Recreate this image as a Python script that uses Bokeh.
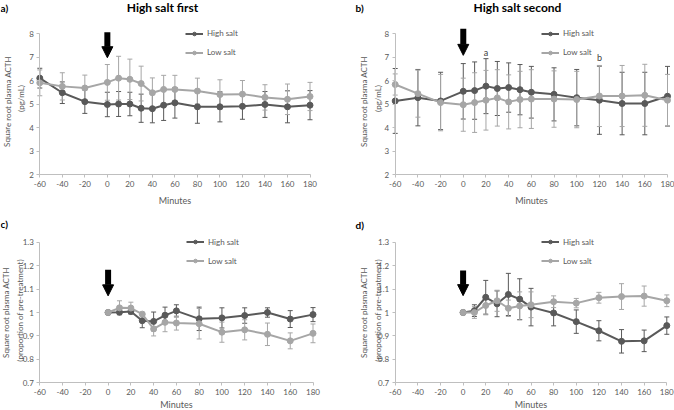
from bokeh.plotting import figure
from bokeh.models import (Range1d, FixedTicker, Label, Legend, LegendItem, Whisker, Grid,
                          ColumnDataSource, Arrow, NormalHead, TeeHead, LinearAxis)
from bokeh.layouts import column, row
from bokeh.embed import file_html
from bokeh.resources import INLINE

# ---------------- data ----------------
minutes_abs = [-60, -40, -20, 0, 10, 20, 30, 40, 50, 60, 80, 100, 120, 140, 160, 180]
minutes_rel = [0, 10, 20, 30, 40, 50, 60, 80, 100, 120, 140, 160, 180]

x_ticks = [-60, -40, -20, 0, 20, 40, 60, 80, 100, 120, 140, 160, 180]
x_tick_labels = ["-60", "-40", "-20", "0", "20", "40", "60", "80", "100", "120", "140", "160", "180"]
abs_ticks = [2, 3, 4, 5, 6, 7, 8]
abs_tick_labels = ["2", "3", "4", "5", "6", "7", "8"]
rel_ticks = [0.7, 0.8, 0.9, 1.0, 1.1, 1.2, 1.3]
rel_tick_labels = ["0.7", "0.8", "0.9", "1", "1.1", "1.2", "1.3"]

series_names = ["High salt", "Low salt"]
panel_titles = ["High salt first", "High salt second"]
panel_letters = ["a)", "b)", "c)", "d)"]
ylabel_abs = ["Square root plasma ACTH", "(pg/mL)"]
ylabel_rel = ["Square root plasma ACTH", "(proportion of pre-treatment)"]
sig_labels = ["a", "b"]
sig_x = [20, 120]
sig_y = [7.18, 6.97]

a_high = [6.1, 5.48, 5.1, 4.98, 5.0, 5.0, 4.82, 4.8, 4.95, 5.05, 4.88, 4.88, 4.9, 4.98, 4.88, 4.95]
a_high_err = [0.42, 0.46, 0.5, 0.52, 0.53, 0.5, 0.6, 0.6, 0.65, 0.65, 0.7, 0.64, 0.55, 0.55, 0.68, 0.62]
a_low = [5.9, 5.75, 5.68, 5.92, 6.1, 6.05, 5.87, 5.48, 5.62, 5.62, 5.55, 5.4, 5.42, 5.28, 5.2, 5.32]
a_low_err = [0.55, 0.58, 0.55, 0.76, 0.93, 0.86, 0.74, 0.63, 0.6, 0.6, 0.55, 0.63, 0.58, 0.54, 0.65, 0.6]

b_high = [5.13, 5.27, 5.13, 5.54, 5.57, 5.76, 5.66, 5.70, 5.61, 5.50, 5.41, 5.27, 5.16, 5.02, 5.02, 5.33]
b_high_err = [1.38, 1.2, 1.22, 1.18, 1.22, 1.17, 1.15, 1.05, 1.07, 1.1, 1.13, 1.2, 1.45, 1.33, 1.33, 1.27]
b_low = [5.83, 5.44, 5.06, 4.97, 5.06, 5.16, 5.26, 5.09, 5.19, 5.21, 5.21, 5.19, 5.34, 5.34, 5.37, 5.16]
b_low_err = [0.45, 1.0, 1.2, 1.13, 1.27, 1.27, 1.2, 1.15, 1.2, 1.25, 1.2, 1.2, 1.3, 1.3, 1.32, 1.1]

c_high = [1.0, 1.001, 1.004, 0.965, 0.962, 0.988, 1.007, 0.973, 0.977, 0.987, 1.0, 0.972, 0.991]
c_high_err = [0.0, 0.01, 0.01, 0.03, 0.04, 0.035, 0.026, 0.05, 0.043, 0.033, 0.02, 0.036, 0.03]
c_low = [1.0, 1.02, 1.019, 0.993, 0.93, 0.958, 0.955, 0.952, 0.916, 0.926, 0.907, 0.879, 0.911]
c_low_err = [0.0, 0.03, 0.025, 0.008, 0.03, 0.04, 0.03, 0.065, 0.043, 0.043, 0.048, 0.034, 0.04]

d_high = [1.0, 1.008, 1.065, 1.037, 1.077, 1.057, 1.023, 0.998, 0.961, 0.922, 0.877, 0.879, 0.944]
d_high_err = [0.0, 0.025, 0.072, 0.055, 0.09, 0.087, 0.08, 0.055, 0.05, 0.043, 0.05, 0.046, 0.037]
d_low = [1.0, 1.0, 1.03, 1.05, 1.018, 1.028, 1.033, 1.046, 1.04, 1.063, 1.068, 1.07, 1.05]
d_low_err = [0.0, 0.025, 0.04, 0.045, 0.035, 0.06, 0.055, 0.025, 0.02, 0.023, 0.055, 0.043, 0.025]

treatment_time = 0
arrow_abs = [(8.05, 6.97), (8.2, 7.07)]
arrow_rel = [(1.182, 1.071), (1.179, 1.072)]

# ---------------- style ----------------
FONT = "Lato"
DARK = "#595959"
LIGHT = "#A6A6A6"
AXIS = "#BFBFBF"
TXT = "#595959"
ROT = 1.5707963
W, H = 337, 205


def make_panel(px_left, px_right, px_top, px_bot, yrange, yticks, ylabels, label_standoff):
    """Frame covers the whole canvas; axes are fixed at x=-60 and y=ymin."""
    xs = (px_right - px_left) / 240.0
    xr = Range1d(-60 - px_left / xs, 180 + (W - px_right) / xs)
    ymin, ymax = yrange
    ys = (px_bot - px_top) / (ymax - ymin)
    yr = Range1d(ymin - (H - px_bot) / ys, ymax + px_top / ys)
    p = figure(width=W, height=H, output_backend="svg", toolbar_location=None,
               x_range=xr, y_range=yr, x_axis_location=None, y_axis_location=None,
               min_border=0, background_fill_color="white", border_fill_color="white")
    p.title.visible = False
    p.outline_line_color = None
    p.center = [c for c in p.center if not isinstance(c, Grid)]

    xa = LinearAxis(fixed_location=ymin, bounds=(-60, 180),
                    ticker=FixedTicker(ticks=x_ticks),
                    major_label_overrides=dict(zip(x_ticks, x_tick_labels)),
                    axis_label="Minutes")
    ya = LinearAxis(fixed_location=-60, bounds=(ymin, ymax),
                    ticker=FixedTicker(ticks=yticks),
                    major_label_overrides=dict(zip(yticks, ylabels)))
    for ax in (xa, ya):
        ax.axis_line_color = AXIS
        ax.major_tick_line_color = AXIS
        ax.major_tick_out = 3
        ax.major_tick_in = 0
        ax.minor_tick_out = 0
        ax.minor_tick_in = 0
        ax.major_label_text_font = FONT
        ax.major_label_text_font_size = "8px"
        ax.major_label_text_color = TXT
        ax.major_label_standoff = 3
    xa.axis_label_text_font = FONT
    xa.axis_label_text_font_size = "9px"
    xa.axis_label_text_font_style = "normal"
    xa.axis_label_text_color = TXT
    xa.axis_label_standoff = label_standoff
    p.add_layout(xa, "below")
    p.add_layout(ya, "left")
    return p


def add_series(p, xs, ys, errs, color, name):
    src = ColumnDataSource(dict(x=xs, y=ys,
                                upper=[v + e for v, e in zip(ys, errs)],
                                lower=[v - e for v, e in zip(ys, errs)]))
    w = Whisker(base="x", upper="upper", lower="lower", source=src,
                line_color=color, line_width=1,
                upper_head=TeeHead(size=5, line_color=color, line_width=1),
                lower_head=TeeHead(size=5, line_color=color, line_width=1))
    p.add_layout(w)
    lr = p.line("x", "y", source=src, line_color=color, line_width=2)
    sr = p.scatter("x", "y", source=src, size=6, fill_color=color, line_color=color)
    return LegendItem(label=name, renderers=[lr, sr])


def add_legend(p, items, x_left, y_low_center):
    lg = Legend(items=items, location=(x_left, H - (y_low_center + 4.5)), orientation="vertical",
                background_fill_alpha=0, border_line_color=None,
                padding=0, margin=0, spacing=9, glyph_width=18, glyph_height=9,
                label_height=9, label_standoff=4,
                label_text_font=FONT, label_text_font_size="8px",
                label_text_font_style="normal", label_text_color=TXT)
    p.add_layout(lg)


def add_text(p, cx, cy, text, size, bold=False, angle=0, align="center", color="black"):
    p.add_layout(Label(x=cx, y=H - cy, x_units="screen", y_units="screen", text=text,
                       text_font=FONT, text_font_size=size,
                       text_font_style="bold" if bold else "normal",
                       text_align=align, text_baseline="middle", angle=angle,
                       text_color=color))


def add_arrow(p, y0, y1):
    p.add_layout(Arrow(x_start=treatment_time, y_start=y0, x_end=treatment_time, y_end=y1,
                       line_color="black", line_width=6,
                       end=NormalHead(size=11, line_color="black", fill_color="black")))


# ---------- panel a ----------
pa = make_panel(39.3, 309.5, 33, 174, (2, 8), abs_ticks, abs_tick_labels, 5)
ia = add_series(pa, minutes_abs, a_high, a_high_err, DARK, series_names[0])
ib = add_series(pa, minutes_abs, a_low, a_low_err, LIGHT, series_names[1])
add_legend(pa, [ia, ib], 185, 52.7)
add_arrow(pa, *arrow_abs[0])
add_text(pa, 162, 7, panel_titles[0], "12px", bold=True)
add_text(pa, 0, 7, panel_letters[0], "10px", bold=True, align="left")
add_text(pa, 7, 101, ylabel_abs[0], "8px", angle=ROT, color=TXT)
add_text(pa, 20.5, 98, ylabel_abs[1], "8px", angle=ROT, color=TXT)

# ---------- panel b ----------
pb = make_panel(57.7, 330, 33, 174, (2, 8), abs_ticks, abs_tick_labels, 5)
ia = add_series(pb, minutes_abs, b_high, b_high_err, DARK, series_names[0])
ib = add_series(pb, minutes_abs, b_low, b_low_err, LIGHT, series_names[1])
add_legend(pb, [ia, ib], 204, 52.7)
add_arrow(pb, *arrow_abs[1])
for t, sx, sy in zip(sig_labels, sig_x, sig_y):
    pb.add_layout(Label(x=sx, y=sy, text=t, text_font=FONT, text_font_size="9px",
                        text_align="center", text_baseline="middle", text_color="#404040"))
add_text(pb, 180, 7, panel_titles[1], "12px", bold=True)
add_text(pb, 18, 7, panel_letters[1], "10px", bold=True, align="left")
add_text(pb, 26.3, 101, ylabel_abs[0], "8px", angle=ROT, color=TXT)
add_text(pb, 40, 98, ylabel_abs[1], "8px", angle=ROT, color=TXT)

# ---------- panel c ----------
pc = make_panel(39.3, 312.5, 36.7, 177.3, (0.7, 1.3), rel_ticks, rel_tick_labels, 1)
ia = add_series(pc, minutes_rel, c_high, c_high_err, DARK, series_names[0])
ib = add_series(pc, minutes_rel, c_low, c_low_err, LIGHT, series_names[1])
add_legend(pc, [ia, ib], 186, 56)
add_arrow(pc, *arrow_rel[0])
add_text(pc, 0, 18, panel_letters[2], "10px", bold=True, align="left")
add_text(pc, 5.5, 107, ylabel_rel[0], "8px", angle=ROT, color=TXT)
add_text(pc, 19.7, 105, ylabel_rel[1], "8px", angle=ROT, color=TXT)

# ---------- panel d ----------
pd_ = make_panel(57.7, 329.3, 36.7, 177.3, (0.7, 1.3), rel_ticks, rel_tick_labels, 1)
ia = add_series(pd_, minutes_rel, d_high, d_high_err, DARK, series_names[0])
ib = add_series(pd_, minutes_rel, d_low, d_low_err, LIGHT, series_names[1])
add_legend(pd_, [ia, ib], 204, 56)
add_arrow(pd_, *arrow_rel[1])
add_text(pd_, 18, 19, panel_letters[3], "10px", bold=True, align="left")
add_text(pd_, 26, 107, ylabel_rel[0], "8px", angle=ROT, color=TXT)
add_text(pd_, 40, 105, ylabel_rel[1], "8px", angle=ROT, color=TXT)

layout = column(row(pa, pb), row(pc, pd_))
open("out.html", "w").write(file_html(layout, INLINE))
